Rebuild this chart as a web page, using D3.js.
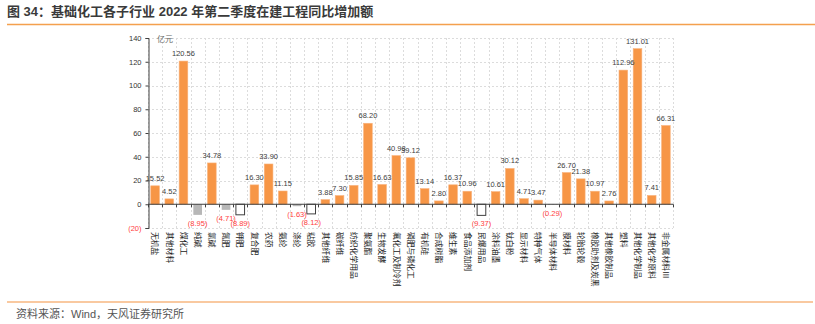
<!DOCTYPE html>
<html>
<head>
<meta charset="utf-8">
<script src="https://cdn.jsdelivr.net/npm/d3@7"></script>
<style>
  body { margin: 0; background: #fff; }
  svg { display: block; }
</style>
</head>
<body>
<svg width="815" height="324"></svg>
<script>
const categories = [
  '无机盐', '其他材料', '煤化工', '纯碱', '氯碱', '氮肥', '钾肥', '复合肥', '农药', '氨纶',
  '涤纶', '粘胶', '其他纤维', '碳纤维', '纺织化学用品', '聚氨酯', '生物发酵', '氟化工及制冷剂',
  '磷肥与磷化工', '有机硅', '合成树脂', '维生素', '食品添加剂', '民爆用品', '涂料油墨', '钛白粉',
  '显示材料', '特种气体', '半导体材料', '膜材料', '轮胎轮毂', '橡胶助剂及炭黑', '其他橡胶制品',
  '塑料', '其他化学制品', '其他化学原料', '非金属材料Ⅲ'
];
const values = [
  15.52, 4.52, 120.56, -8.95, 34.78, -4.71, -8.89, 16.30, 33.90, 11.15,
  -1.63, -8.12, 3.88, 7.30, 15.85, 68.20, 16.63, 40.98,
  39.12, 13.14, 2.80, 16.37, 10.96, -9.37, 10.61, 30.12,
  4.71, 3.47, -0.29, 26.70, 21.38, 10.97, 2.76,
  112.96, 131.01, 7.41, 66.31
];
// negative bars drawn hollow instead of grey
const hollow = ['钾肥', '粘胶', '民爆用品'];
const yTicks = [-20, 0, 20, 40, 60, 80, 100, 120, 140];

const data = categories.map((c, i) => ({ name: c, value: values[i] }));

const svg = d3.select('svg');
const font = '"Liberation Sans", Arial, "Noto Sans CJK SC", sans-serif';

// title
svg.append('text')
  .attr('x', 7).attr('y', 16)
  .attr('font-family', font)
  .attr('font-size', 13).attr('font-weight', 'bold')
  .attr('fill', '#3a3a3a')
  .text('图 34：基础化工各子行业 2022 年第二季度在建工程同比增加额');
svg.append('line')
  .attr('x1', 7).attr('x2', 815).attr('y1', 24.5).attr('y2', 24.5)
  .attr('stroke', '#f4a04e').attr('stroke-width', 1.5);

// footer
svg.append('line')
  .attr('x1', 7).attr('x2', 813).attr('y1', 302).attr('y2', 302)
  .attr('stroke', '#f9c9a0').attr('stroke-width', 2);
svg.append('text')
  .attr('x', 16).attr('y', 318)
  .attr('font-family', font).attr('font-size', 11)
  .attr('fill', '#555')
  .text('资料来源：Wind，天风证券研究所');

const left = 148, right = 673;

const x = d3.scaleBand()
  .domain(categories)
  .range([left, right])
  .paddingInner(0.39)
  .paddingOuter(0.195);
const step = x.step();
const y = d3.scaleLinear().domain([-20, 140]).range([228, 38]);

const g = svg.append('g');

// horizontal grid
g.append('g').selectAll('line')
  .data(yTicks)
  .join('line')
  .attr('x1', left).attr('x2', right)
  .attr('y1', (d) => Math.round(y(d)) + 0.5)
  .attr('y2', (d) => Math.round(y(d)) + 0.5)
  .attr('stroke', '#dcdcdc').attr('stroke-dasharray', '2,2');

// vertical grid at band boundaries
const bounds = categories.map((c) => x(c) - x.paddingInner() * x.bandwidth() / (1 - x.paddingInner()) / 2)
  .concat([right]);
g.append('g').selectAll('line')
  .data(bounds)
  .join('line')
  .attr('x1', (d) => Math.round(d) + 0.5).attr('x2', (d) => Math.round(d) + 0.5)
  .attr('y1', y(140)).attr('y2', y(-20))
  .attr('stroke', '#dcdcdc').attr('stroke-dasharray', '2,2');

// bars
g.append('g').selectAll('rect')
  .data(data)
  .join('rect')
  .attr('x', (d) => x(d.name))
  .attr('width', x.bandwidth())
  .attr('y', (d) => y(Math.max(0, d.value)))
  .attr('height', (d) => Math.abs(y(d.value) - y(0)))
  .attr('fill', (d) => d.value >= 0 ? '#f79646' : (hollow.includes(d.name) ? '#fff' : '#b7b7b7'))
  .attr('stroke', (d) => d.value >= 0 ? '#f9b27c' : (hollow.includes(d.name) ? '#404040' : 'none'))
  .attr('stroke-width', (d) => hollow.includes(d.name) ? 1 : 0.6);

// value labels
g.append('g').selectAll('text')
  .data(data)
  .join('text')
  .attr('x', (d) => x(d.name) + x.bandwidth() / 2)
  .attr('y', (d) => d.value >= 0 ? y(d.value) - 5 : y(d.value) + 11)
  .attr('text-anchor', 'middle')
  .attr('font-family', font).attr('font-size', 7.5)
  .attr('fill', (d) => d.value >= 0 ? '#404040' : '#ff4040')
  .text((d) => d.value >= 0 ? d.value.toFixed(2) : `(${Math.abs(d.value).toFixed(2)})`);

// y axis
const yAxis = d3.axisLeft(y)
  .tickValues(yTicks)
  .tickSize(3)
  .tickFormat((d) => d < 0 ? `(${-d})` : d);
const ya = g.append('g')
  .attr('transform', `translate(${left + 0.5},0)`)
  .call(yAxis);
ya.select('.domain').attr('stroke', '#404040');
ya.selectAll('.tick line').attr('stroke', '#404040');
ya.selectAll('.tick text')
  .attr('font-family', font).attr('font-size', 7.5)
  .attr('x', -7)
  .attr('fill', (d) => d < 0 ? '#ff4040' : '#333');

// zero axis with boundary ticks
g.append('line')
  .attr('x1', left).attr('x2', right)
  .attr('y1', y(0)).attr('y2', y(0))
  .attr('stroke', '#404040').attr('stroke-width', 1);
g.append('g').selectAll('line')
  .data(bounds)
  .join('line')
  .attr('x1', (d) => Math.round(d) + 0.5).attr('x2', (d) => Math.round(d) + 0.5)
  .attr('y1', y(0)).attr('y2', y(0) + 3)
  .attr('stroke', '#404040');

// unit
g.append('text')
  .attr('x', 157).attr('y', 42)
  .attr('font-family', font).attr('font-size', 8)
  .attr('fill', '#666')
  .text('亿元');

// category labels, rotated
g.append('g').selectAll('text')
  .data(categories)
  .join('text')
  .attr('transform', (d) => `translate(${x(d) + x.bandwidth() / 2},232) rotate(90)`)
  .attr('dy', '0.35em')
  .attr('font-family', font).attr('font-size', 7.8)
  .attr('fill', '#222')
  .text((d) => d);
</script>
</body>
</html>
